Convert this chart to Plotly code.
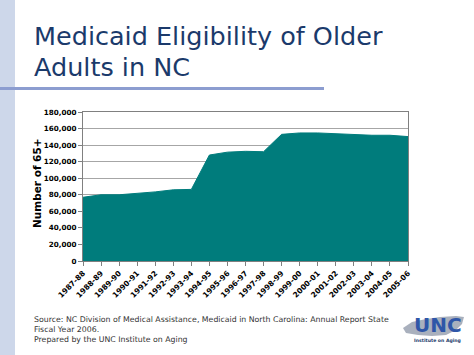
import plotly.graph_objects as go

years = ["1987-88", "1988-89", "1989-90", "1990-91", "1991-92", "1992-93", "1993-94",
         "1994-95", "1995-96", "1996-97", "1997-98", "1998-99", "1999-00", "2000-01",
         "2001-02", "2002-03", "2003-04", "2004-05", "2005-06"]
eligible = [77000, 80000, 80000, 81500, 83500, 86000, 86500,
            128000, 131500, 132500, 132000, 153000, 154700, 154700,
            153800, 152300, 151900, 151900, 150300]

W, H = 474, 355
L, R, T, B = 83, 408, 112, 261


def px(x):
    return (x - L) / (R - L)


def py(y):
    return (B - y) / (B - T)


fig = go.Figure()
fig.add_trace(go.Scatter(
    x=years, y=eligible, mode="lines", fill="tozeroy",
    fillcolor="#007c7c", line=dict(color="#007c7c", width=1),
    hoverinfo="skip", showlegend=False))

xfont = dict(family="DejaVu Sans", size=7.5, color="#000000", weight="bold")
yfont = dict(family="DejaVu Sans", size=7.2, color="#000000", weight="bold")

fig.update_layout(
    width=W, height=H,
    margin=dict(l=L, r=W - R, t=T, b=H - B),
    paper_bgcolor="white", plot_bgcolor="white",
    xaxis=dict(type="category", range=[0, len(years) - 1], tickangle=-45,
               tickfont=xfont, ticks="outside", ticklen=4, tickcolor="#808080",
               showgrid=False, showline=True, linecolor="#808080", mirror=True,
               zeroline=False),
    yaxis=dict(range=[0, 180000], dtick=20000, tickformat=",", tickfont=yfont,
               ticks="outside", ticklen=4, tickcolor="#808080",
               showgrid=True, gridcolor="#a6a6a6", gridwidth=1,
               showline=True, linecolor="#808080", mirror=True, zeroline=False),
)

# left stripe and title underline
fig.add_shape(type="rect", xref="paper", yref="paper", x0=px(0), x1=px(15),
              y0=py(H), y1=py(0), fillcolor="#cdd7ea", line_width=0, layer="below")
fig.add_shape(type="line", xref="paper", yref="paper", x0=px(0), x1=px(324),
              y0=py(88.5), y1=py(88.5), line=dict(color="#8c9dd0", width=3))

title_font = dict(family="DejaVu Sans", size=25.5, color="#1b3a6b")
fig.add_annotation(text="Medicaid Eligibility of Older", xref="paper", yref="paper",
                   x=px(32), y=py(36), xanchor="left", yanchor="middle",
                   showarrow=False, font=title_font)
fig.add_annotation(text="Adults in NC", xref="paper", yref="paper",
                   x=px(32), y=py(67), xanchor="left", yanchor="middle",
                   showarrow=False, font=title_font)

fig.add_annotation(text="Number of 65+", xref="paper", yref="paper",
                   x=px(37), y=py(183), xanchor="center", yanchor="middle",
                   textangle=-90, showarrow=False,
                   font=dict(family="DejaVu Sans", size=10.5, color="#000000", weight="bold"))

foot_font = dict(family="DejaVu Sans", size=7.8, color="#333333")
foot = ["Source: NC Division of Medical Assistance, Medicaid in North Carolina: Annual Report State",
        "Fiscal Year 2006.",
        "Prepared by the UNC Institute on Aging"]
for i, line in enumerate(foot):
    fig.add_annotation(text=line, xref="paper", yref="paper",
                       x=px(32), y=py(319.5 + i * 10), xanchor="left", yanchor="middle",
                       showarrow=False, font=foot_font)

# logo
nc = [(403, 328), (412, 322), (426, 319), (440, 317), (456, 316), (464, 317),
      (462, 324), (456, 330), (446, 335), (432, 336), (418, 335), (406, 333)]
path = "M " + " L ".join(f"{px(x):.4f},{py(y):.4f}" for x, y in nc) + " Z"
fig.add_shape(type="path", xref="paper", yref="paper", path=path,
              fillcolor="#a9b0bd", line_width=0)
fig.add_annotation(text="UNC", xref="paper", yref="paper", x=px(437.5), y=py(325),
                   xanchor="center", yanchor="middle", showarrow=False,
                   font=dict(family="DejaVu Sans", size=20, color="#2f56a8", weight="bold"))
fig.add_annotation(text="Institute on Aging", xref="paper", yref="paper", x=px(437.5), y=py(340),
                   xanchor="center", yanchor="middle", showarrow=False,
                   font=dict(family="DejaVu Sans", size=4.6, color="#1b3a6b", weight="bold"))

fig.write_html("out.html", config={"displayModeBar": False},
               post_script="document.body.style.margin='0';document.body.style.overflow='hidden';")
